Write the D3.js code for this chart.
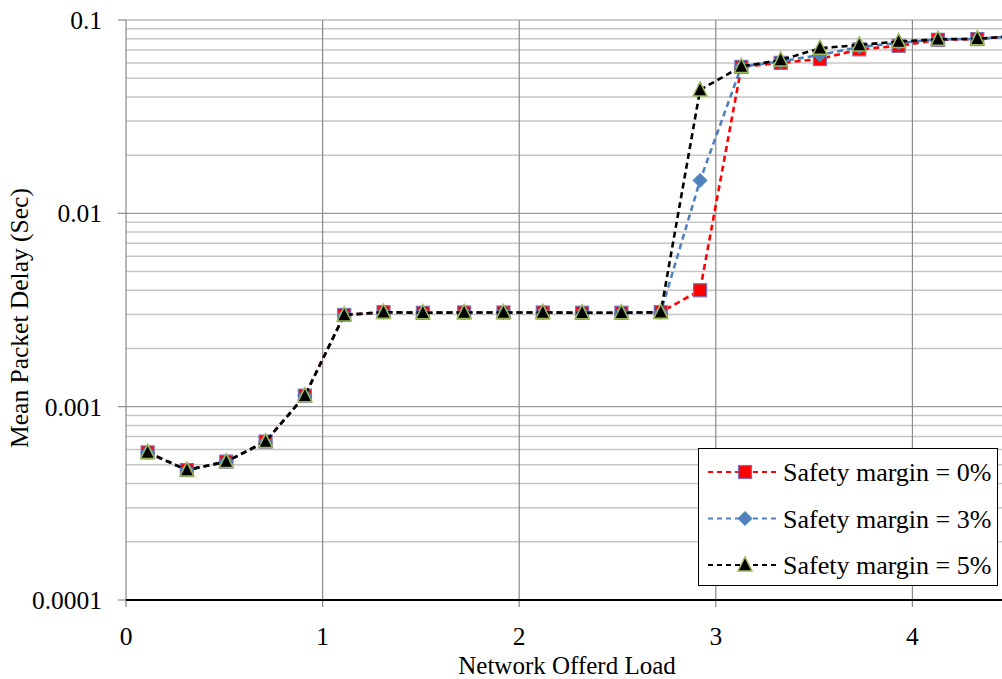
<!DOCTYPE html>
<html><head><meta charset="utf-8">
<script src="https://cdn.jsdelivr.net/npm/d3@7"></script>
<style>body{margin:0;background:#fff}svg{display:block}</style>
</head><body><svg id="c" width="1002" height="679" font-family="'Liberation Serif', 'Times New Roman', Times, 'DejaVu Serif', serif"></svg>
<script>
const loads = [0.11,0.31,0.51,0.71,0.91,1.11,1.31,1.51,1.72,1.92,2.12,2.32,2.52,2.72,2.92,3.13,3.33,3.53,3.73,3.93,4.13,4.33,4.54];
const common = [0.00058,0.00047,0.00052,0.00066,0.00114,0.00298,0.00308,0.00306,0.00307,0.00307,0.00307,0.00306,0.00306,0.00308];
const margin0 = common.concat([0.0040,0.0572,0.0600,0.0628,0.0705,0.0735,0.0790,0.0797,0.0830]);
const margin3 = common.concat([0.0148,0.0575,0.0610,0.0660,0.0725,0.0760,0.0795,0.0798,0.0830]);
const margin5 = common.concat([0.0435,0.0575,0.0621,0.0714,0.0743,0.0773,0.0795,0.0800,0.0830]);
const seriesNames = ["Safety margin = 0%","Safety margin = 3%","Safety margin = 5%"];
const xTicks = [0,1,2,3,4];
const yTicks = [0.0001,0.001,0.01,0.1];
const yTickLabels = ["0.0001","0.001","0.01","0.1"];
const xTitle = "Network Offerd Load";
const yTitle = "Mean Packet Delay (Sec)";

const svg = d3.select("#c");
const x = d3.scaleLinear().domain([0,5]).range([126,126+5*196.6]);
const y = d3.scaleLog().domain([0.0001,0.1]).range([600,20]);
const fs = 25.5;

const minor = [];
[0.0001,0.001,0.01].forEach(d=>{for(let k=2;k<=9;k++) minor.push(d*k);});
svg.append("g").selectAll("line").data(minor).join("line")
  .attr("x1",x(0)).attr("x2",1002).attr("y1",d=>y(d)).attr("y2",d=>y(d))
  .attr("stroke","#c6c6c6").attr("stroke-width",1.5);
svg.append("g").selectAll("line").data(yTicks.slice(1)).join("line")
  .attr("x1",x(0)).attr("x2",1002).attr("y1",d=>y(d)).attr("y2",d=>y(d))
  .attr("stroke","#9a9a9a").attr("stroke-width",1.2);
svg.append("g").selectAll("line").data(xTicks.slice(1)).join("line")
  .attr("x1",d=>x(d)).attr("x2",d=>x(d)).attr("y1",y(0.1)).attr("y2",y(0.0001)+7)
  .attr("stroke","#8a8a8a").attr("stroke-width",1.2);

svg.append("line").attr("x1",x(0)).attr("x2",x(0)).attr("y1",y(0.1)).attr("y2",y(0.0001)+7)
  .attr("stroke","#8a8a8a").attr("stroke-width",1.2);
svg.append("g").selectAll("line").data(yTicks).join("line")
  .attr("x1",x(0)-8).attr("x2",x(0)).attr("y1",d=>y(d)).attr("y2",d=>y(d))
  .attr("stroke","#8a8a8a").attr("stroke-width",1.2);
svg.append("g").selectAll("text").data(yTicks).join("text")
  .attr("x",102).attr("y",d=>y(d)).attr("dy","0.35em").attr("text-anchor","end")
  .attr("font-size",fs).text((d,i)=>yTickLabels[i]);
svg.append("line").attr("x1",x(0)).attr("x2",1002).attr("y1",y(0.0001)).attr("y2",y(0.0001))
  .attr("stroke","#000").attr("stroke-width",2);
svg.append("g").selectAll("text").data(xTicks).join("text")
  .attr("x",d=>x(d)).attr("y",645).attr("text-anchor","middle")
  .attr("font-size",fs).text(d=>d);
svg.append("text").attr("x",567).attr("y",674).attr("text-anchor","middle").attr("font-size",25).text(xTitle);
svg.append("text").attr("transform","translate(28,318) rotate(-90)").attr("text-anchor","middle").attr("font-size",fs).text(yTitle);

const colors = ["#ff0000","#4f81bd","#000000"];
const allSeries = [margin0,margin3,margin5];
const line = d3.line().x((d,i)=>x(loads[i])).y(d=>y(d));

function marker(g,k,cx,cy){
  if(k===0){
    g.append("rect").attr("x",cx-6.5).attr("y",cy-6.5).attr("width",13).attr("height",13)
      .attr("fill","#ff0000").attr("stroke","#7d6fb5").attr("stroke-width",1.2);
  } else if(k===1){
    g.append("path").attr("d",`M${cx},${cy-7}L${cx+7},${cy}L${cx},${cy+7}L${cx-7},${cy}Z`)
      .attr("fill","#4f81bd").attr("stroke","#4f81bd").attr("stroke-width",1);
  } else {
    g.append("path").attr("d",`M${cx},${cy-8}L${cx+7},${cy+6}L${cx-7},${cy+6}Z`)
      .attr("fill","#000").attr("stroke","#9bbb59").attr("stroke-width",1.5);
  }
}

allSeries.forEach((s,k)=>{
  const g = svg.append("g");
  g.append("path").datum(s).attr("d",line).attr("fill","none")
    .attr("stroke",colors[k]).attr("stroke-width",2.6).attr("stroke-dasharray","6,4");
  s.forEach((v,i)=>marker(g,k,x(loads[i]),y(v)));
});

const lg = svg.append("g");
lg.append("rect").attr("x",698.5).attr("y",448.5).attr("width",299).attr("height",137)
  .attr("fill","#fff").attr("stroke","#000").attr("stroke-width",1);
seriesNames.forEach((n,k)=>{
  const ly = 472 + k*46.5;
  lg.append("line").attr("x1",708).attr("x2",776).attr("y1",ly).attr("y2",ly)
    .attr("stroke",colors[k]).attr("stroke-width",2).attr("stroke-dasharray","5,4");
  marker(lg,k,745,ly);
  lg.append("text").attr("x",783).attr("y",ly).attr("dy","0.35em").attr("font-size",26).text(n);
});
</script></body></html>
